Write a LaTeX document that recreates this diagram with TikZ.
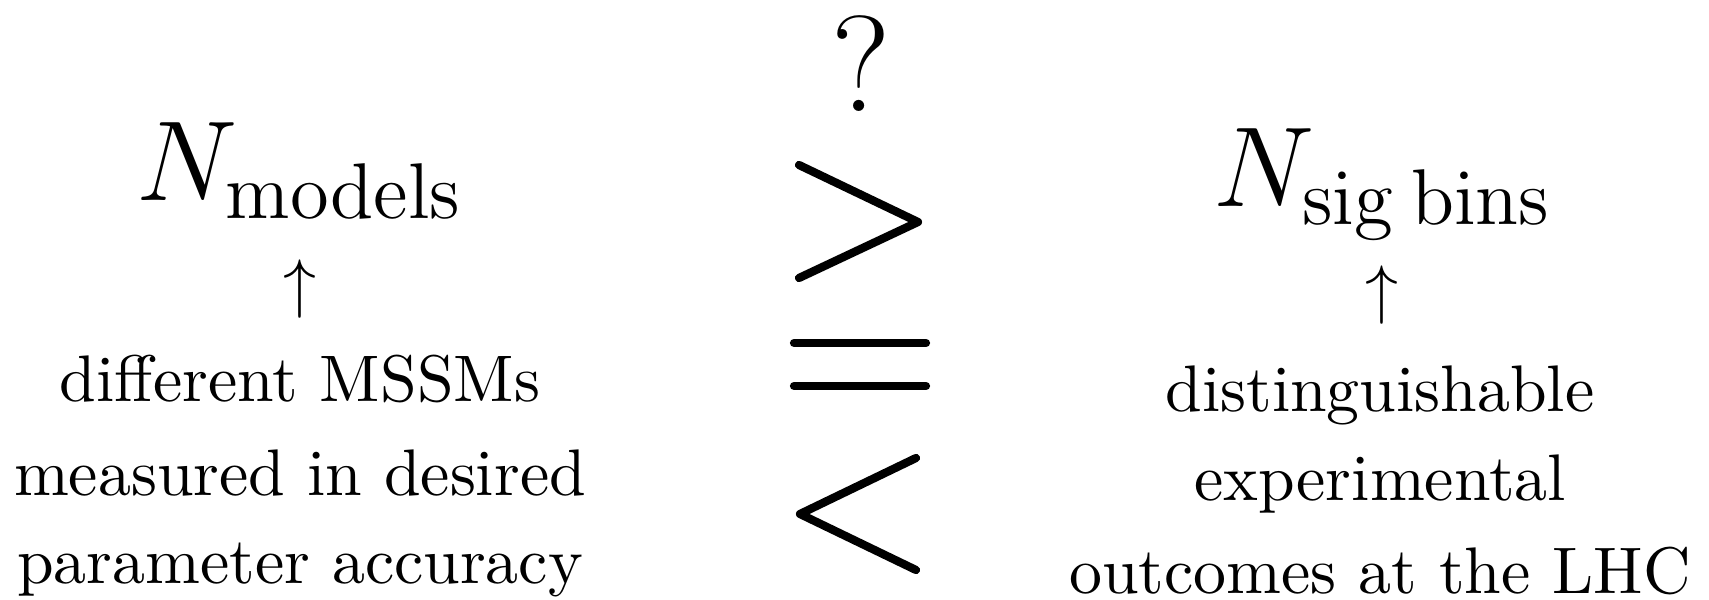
\documentclass[tikz,border=0pt]{standalone}
\usepackage{amsmath}
\usepackage{graphicx}
\newcommand{\txtbig}[1]{\scalebox{2}{\fontsize{10}{12}\selectfont #1}}
\newcommand{\mathbig}[1]{\scalebox{2}{\fontsize{17.28}{21}\selectfont #1}}
\begin{document}
\begin{tikzpicture}[x=0.3036pt,y=-0.3036pt,
  txt/.style={inner sep=0pt,outer sep=0pt,anchor=base},
  arr/.style={inner sep=0pt,outer sep=0pt,anchor=center},
  rel/.style={line width=2.5pt,line cap=round,line join=round}]
\useasboundingbox (0,0) rectangle (1709,600);
% left column
\node[txt] (nm) at (300,201) {\mathbig{$N_{\mathrm{models}}$}};
\node[arr] (la) at (300,289) {\txtbig{$\uparrow$}};
\node[txt] (l1) at (300,402) {\txtbig{different MSSMs}};
\node[txt] (l2) at (300,495) {\txtbig{measured in desired}};
\node[txt] (l3) at (300,583) {\txtbig{parameter accuracy}};
% right column
\node[txt] (ns) at (1383,207) {\mathbig{$N_{\mathrm{sig\:bins}}$}};
\node[arr] (ra) at (1382,295) {\txtbig{$\uparrow$}};
\node[txt] (r1) at (1380,412) {\txtbig{distinguishable}};
\node[txt] (r2) at (1380,500) {\txtbig{experimental}};
\node[txt] (r3) at (1380,593) {\txtbig{outcomes at the LHC}};
% middle relations
\node[txt] (q) at (861,112) {\scalebox{2}{\fontsize{20.74}{25}\selectfont ?}};
\draw[rel] (799,165) -- (918,222) -- (799,278);
\draw[rel] (794,343) -- (926,343);
\draw[rel] (794,386) -- (926,386);
\draw[rel] (916,458) -- (800,514) -- (916,570);
\end{tikzpicture}
\end{document}
